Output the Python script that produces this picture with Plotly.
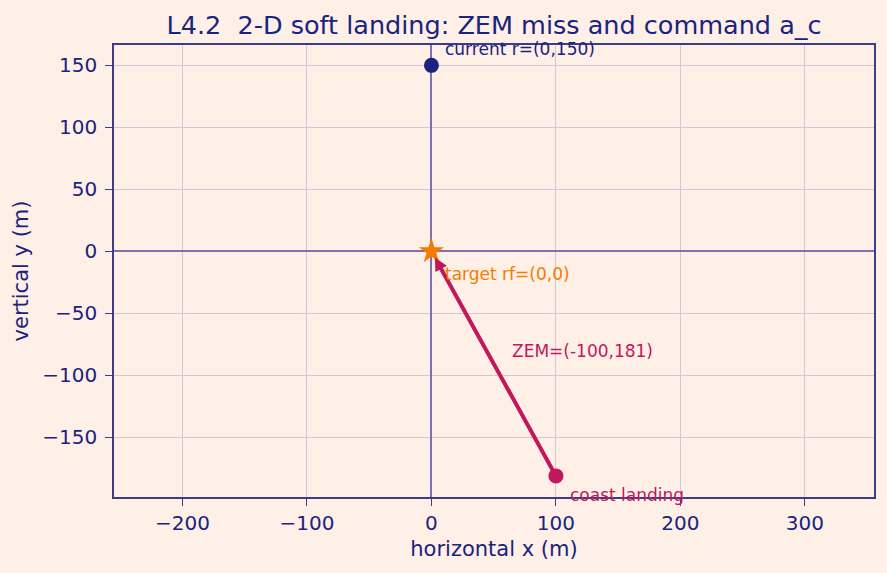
import plotly.graph_objects as go

# data
current_r = [0, 150]
target_rf = [0, 0]
coast_land = [100, -181]
zem = [-100, 181]
x_ticks = [-200, -100, 0, 100, 200, 300]
y_ticks = [-150, -100, -50, 0, 50, 100, 150]

NAVY = "#1a237e"
ORANGE = "#f57c00"
CRIMSON = "#c2185b"
BG = "#fef0e6"
FONT = "DejaVu Sans"

fig = go.Figure()
fig.add_trace(go.Scatter(x=[current_r[0]], y=[current_r[1]], mode="markers",
                         marker=dict(color=NAVY, size=15, symbol="circle"), showlegend=False))
fig.add_trace(go.Scatter(x=[coast_land[0]], y=[coast_land[1]], mode="markers",
                         marker=dict(color=CRIMSON, size=15, symbol="circle"), showlegend=False))
fig.add_trace(go.Scatter(x=[target_rf[0]], y=[target_rf[1]], mode="markers",
                         marker=dict(color=ORANGE, size=19, symbol="star"), showlegend=False))

# ZEM arrow from coast landing to target
fig.add_annotation(x=target_rf[0], y=target_rf[1], ax=coast_land[0], ay=coast_land[1],
                   xref="x", yref="y", axref="x", ayref="y", showarrow=True,
                   arrowhead=2, arrowsize=0.65, arrowwidth=4, arrowcolor=CRIMSON,
                   standoff=7, text="")

ann_font = dict(family=FONT, size=17)
fig.add_annotation(x=current_r[0] + 9, y=current_r[1] + 13, text="current r=(%d,%d)" % tuple(current_r),
                   showarrow=False, xanchor="left", yanchor="middle",
                   font=dict(**ann_font, color=NAVY))
fig.add_annotation(x=target_rf[0] + 9, y=target_rf[1] - 18, text="target rf=(%d,%d)" % tuple(target_rf),
                   showarrow=False, xanchor="left", yanchor="middle",
                   font=dict(**ann_font, color=ORANGE))
fig.add_annotation(x=63.5, y=-80.5, text="ZEM=(%d,%d)" % tuple(zem),
                   showarrow=False, xanchor="left", yanchor="middle",
                   font=dict(**ann_font, color=CRIMSON))
fig.add_annotation(x=coast_land[0] + 9.5, y=coast_land[1] - 15, text="coast landing",
                   showarrow=False, xanchor="left", yanchor="middle",
                   font=dict(**ann_font, color=CRIMSON))

axis_common = dict(
    showline=True, mirror=True, linecolor="#3d3d85", linewidth=1.5,
    showgrid=True, gridcolor="#d8c4d9", gridwidth=1.3,
    zeroline=True, zerolinecolor="#7f70b2", zerolinewidth=1.6,
    ticks="outside", ticklen=7, tickwidth=1.3, tickcolor="#3d3d85",
    tickfont=dict(family=FONT, size=20, color=NAVY),
)

fig.update_xaxes(range=[-255, 355.5], tickvals=x_ticks,
                 ticktext=[str(v).replace("-", "\u2212") for v in x_ticks],
                 title=dict(text="horizontal x (m)", font=dict(family=FONT, size=21, color=NAVY), standoff=8),
                 **axis_common)
fig.update_yaxes(range=[-198, 166.4], tickvals=y_ticks,
                 ticktext=[str(v).replace("-", "\u2212") for v in y_ticks],
                 ticklabelstandoff=4,
                 title=dict(text="vertical y (m)", font=dict(family=FONT, size=21, color=NAVY), standoff=8),
                 **axis_common)

fig.update_layout(
    width=887, height=573,
    margin=dict(l=114, r=13, t=45, b=76),
    paper_bgcolor=BG, plot_bgcolor=BG,
    font=dict(family=FONT, color=NAVY),
    title=dict(text="L4.2  2-D soft landing: ZEM miss and command a_c",
               font=dict(family=FONT, size=25.5, color=NAVY),
               x=0.557, xanchor="center", y=1 - 25 / 573, yanchor="middle", yref="container"),
    showlegend=False,
)

fig.write_html("out.html")
